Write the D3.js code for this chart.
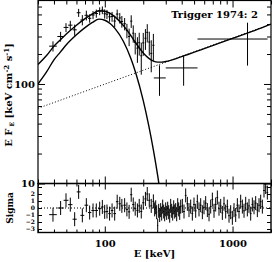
<!DOCTYPE html>
<html>
<head>
<meta charset="utf-8">
<script src="https://cdn.jsdelivr.net/npm/d3@7"></script>
<style>
body { margin: 0; background: #fff; }
text { font-family: "DejaVu Serif", serif; font-weight: bold; fill: #000; }
</style>
</head>
<body>
<div id="chart"></div>
<script>
// modelo total (keV, keV cm^-2 s^-1)
const totalE = [30, 35, 40, 45, 50, 60, 70, 80, 90, 100, 110, 120, 140, 160, 175, 200, 220, 240, 260, 280, 300, 400, 600, 1000, 1500, 2000];
const totalF = [157, 193, 240, 279, 318, 389, 453, 506, 544, 538, 511, 472, 386, 306, 258, 205, 182, 170, 166, 166, 168, 188, 227, 287, 346, 400];

// componente con corte
const bandE = [30, 35, 40, 45, 50, 60, 70, 80, 90, 100, 110, 120, 140, 160, 175, 200, 220, 240, 260, 270, 280];
const bandF = [100, 132, 175, 210, 248, 312, 368, 415, 448, 437, 405, 362, 267, 180, 128, 68, 39, 21.8, 11.8, 8.5, 6];

// ley de potencias (punteada)
const plE = [30, 2000];
const plF = [57, 400];

// espectro observado, canales finos
const specE = [39.3, 45.1, 49.7, 53.7, 58.1, 62.4, 66.7, 71.7, 76.1, 80.9, 85.8, 91.2, 95.7, 99.8, 104, 109, 114, 119.5, 125, 131,
  136, 143, 149, 155, 161, 167, 173, 180, 186, 193, 200, 208, 215, 223, 231, 240];
const specF = [240, 300, 370, 390, 350, 520, 440, 490, 457, 494, 511, 540, 552, 508, 502, 473, 476, 429, 504, 461,
  425, 403, 345, 300, 428, 324, 262, 229, 260, 192, 259, 288, 330, 264, 203, 245];
const specErr = [28, 34, 38, 41, 45, 48, 52, 55, 44, 46, 48, 49, 49, 54, 53, 51, 54, 57, 55, 56,
  57, 57, 57, 60, 62, 64, 64, 66, 67, 68, 67, 68, 69, 71, 72, 74];

// canales anchos a alta energía
const wideLo = [242, 300, 532];
const wideHi = [300, 532, 1880];
const wideE = [268, 414, 1310];
const wideF = [115, 145, 283];
const wideErr = [39, 49, 130];

// residuos (sigma)
const resE = specE.concat([
  245.7, 250.2, 254.7, 259.4, 264.1, 268.9, 273.8, 278.8, 283.9, 289.1, 294.3, 299.7, 305.1, 310.7, 316.3, 322.1,
  327.9, 333.9, 340.0, 346.2, 352.5, 358.9, 365.4, 372.1, 378.9, 385.8, 392.8,
  404.6, 416.9, 429.7, 442.8, 456.3, 470.2, 484.5, 499.3, 514.5, 530.2, 546.4, 563.1, 580.3, 598.0, 616.2, 635.0,
  654.4, 674.4, 694.9, 716.1, 737.9, 760.4, 783.6, 807.5, 832.1, 857.5, 883.6, 910.6, 938.4, 967.0, 996.5, 1026.9,
  1058.2, 1090.5, 1123.7, 1158.0, 1193.3, 1229.7, 1267.2, 1305.8, 1345.6, 1386.7, 1429.0, 1472.6, 1517.5, 1563.8,
  1611.5, 1660.6, 1711.2, 1763.4, 1817.2, 1872.6]);
const resSig = [
  -0.95, 0, 1.1, 0.48, -1.6, 2.3, -1.05, 0.4, -0.65, -0.35, -0.35, -0.1, 0.15, -0.55, -0.5, -0.8, -0.35, -0.8, 0.9, 0.6,
  0.3, 0.4, -0.2, -0.55, 1.9, 0.5, -0.1, -0.35, 0.3, -0.5, 0.75, 1.3, 2.0, 1.1, 0.3, 0.95,
  -0.2, 0.1, -0.6, -2.5, -0.4, -1.0, -0.3, -0.8, 0.2, -0.5, -0.9, -0.2, -0.7, -0.1, -0.6, -1.1, 0.3, -0.4, -0.8, 0.1,
  -0.5, -0.3, -0.9, 0.4, -0.2, -0.7, 0.2,
  0.3, -0.5, 1.8, 0.6, -0.3, 0.2, -0.8, 0.5, -0.4, 0.9, -0.2, 0.4, -0.6, 0.1, 0.7, -0.3, -0.9, 0.2, 1.2, -0.4,
  0.5, 1.5, -0.1, 0.3, -0.7, 0.6, -0.5, 0.2, -1.1, -0.6, -1.4, -0.3, -1.0, 0.4, -0.5, 0.9, 0.2, -0.4, 0.6, -0.2,
  0.3, -0.8, 0.5, 0.1, 0.7, -0.3, 0.4, 0.9, 0.2, 2.5, 3.0, 2.2];

const sigTicks = [-3, -2, -1, 0, 1, 2, 3];
const sigLabels = [-3, -2, -1, 0, 1, 2];

// dimensiones
const width = 272, height = 262;
const mLeft = 38, mRight = 271, mTop = 0.5, mainBottom = 183.5, resBottom = 232.5;

const svg = d3.select("#chart").append("svg")
  .attr("width", width)
  .attr("height", height);

const x = d3.scaleLog().domain([30, 2000]).range([mLeft, mRight]);
const y = d3.scaleLog().domain([10, 690]).range([mainBottom, mTop]);
const yr = d3.scaleLinear().domain([-3.5, 3.5]).range([resBottom, mainBottom]);

svg.append("clipPath").attr("id", "clipMain").append("rect")
  .attr("x", mLeft).attr("y", mTop).attr("width", mRight - mLeft).attr("height", mainBottom - mTop);
svg.append("clipPath").attr("id", "clipRes").append("rect")
  .attr("x", mLeft).attr("y", mainBottom).attr("width", mRight - mLeft).attr("height", resBottom - mainBottom);

const main = svg.append("g").attr("clip-path", "url(#clipMain)");
const res = svg.append("g").attr("clip-path", "url(#clipRes)");

// curvas del modelo
const line = d3.line().x(d => x(d[0])).y(d => y(d[1])).curve(d3.curveMonotoneX);

main.append("path").datum(d3.zip(plE, plF))
  .attr("d", line).attr("fill", "none").attr("stroke", "#000")
  .attr("stroke-width", 1).attr("stroke-dasharray", "1,2");
main.append("path").datum(d3.zip(bandE, bandF))
  .attr("d", line).attr("fill", "none").attr("stroke", "#000").attr("stroke-width", 1.4);
main.append("path").datum(d3.zip(totalE, totalF))
  .attr("d", line).attr("fill", "none").attr("stroke", "#000").attr("stroke-width", 1.4);

// medio ancho de cada canal, a partir de los vecinos
function halfWidths(es) {
  const px = es.map(x);
  return px.map((p, i) => {
    if (i === 0) return (px[1] - px[0]) / 2;
    if (i === px.length - 1) return (px[i] - px[i - 1]) / 2;
    return (px[i + 1] - px[i - 1]) / 4;
  });
}

const hwSpec = halfWidths(specE);
const spec = main.append("g").attr("stroke", "#000").attr("stroke-width", 1);
specE.forEach((e, i) => {
  const cx = x(e);
  spec.append("line").attr("x1", cx - hwSpec[i]).attr("x2", cx + hwSpec[i])
    .attr("y1", y(specF[i])).attr("y2", y(specF[i]));
  spec.append("line").attr("x1", cx).attr("x2", cx)
    .attr("y1", y(specF[i] - specErr[i])).attr("y2", y(specF[i] + specErr[i]));
});

wideE.forEach((e, i) => {
  spec.append("line").attr("x1", x(wideLo[i])).attr("x2", x(wideHi[i]))
    .attr("y1", y(wideF[i])).attr("y2", y(wideF[i]));
  spec.append("line").attr("x1", x(e)).attr("x2", x(e))
    .attr("y1", y(wideF[i] - wideErr[i])).attr("y2", y(wideF[i] + wideErr[i]));
});

// panel de residuos
res.append("line").attr("x1", mLeft).attr("x2", mRight)
  .attr("y1", yr(0)).attr("y2", yr(0))
  .attr("stroke", "#000").attr("stroke-width", 1).attr("stroke-dasharray", "1,2");

const hwRes = halfWidths(resE);
const rg = res.append("g").attr("stroke", "#000").attr("stroke-width", 1);
resE.forEach((e, i) => {
  const cx = x(e);
  rg.append("line").attr("x1", cx - hwRes[i]).attr("x2", cx + hwRes[i])
    .attr("y1", yr(resSig[i])).attr("y2", yr(resSig[i]));
  rg.append("line").attr("x1", cx).attr("x2", cx)
    .attr("y1", yr(resSig[i] - 1)).attr("y2", yr(resSig[i] + 1));
});

// ejes
const isMajor = v => Math.abs(Math.log10(v) - Math.round(Math.log10(v))) < 1e-6;
const xTicks = x.ticks();
const xMajor = xTicks.filter(isMajor), xMinor = xTicks.filter(v => !isMajor(v));
const yTicks = y.ticks();
const yMajor = yTicks.filter(isMajor), yMinor = yTicks.filter(v => !isMajor(v));

function put(axis, tx, ty) {
  const g = svg.append("g").attr("transform", `translate(${tx},${ty})`).call(axis);
  g.select(".domain").remove();
  g.selectAll("line").attr("stroke", "#000").attr("stroke-width", 1);
  g.selectAll("text").style("font-family", '"DejaVu Serif", serif').style("font-weight", "bold").style("font-size", "10px");
  return g;
}

// x: panel principal abajo/arriba, residuos arriba/abajo
put(d3.axisBottom(x).tickValues(xMajor).tickSize(-7).tickFormat(""), 0, mainBottom);
put(d3.axisBottom(x).tickValues(xMinor).tickSize(-4).tickFormat(""), 0, mainBottom);
put(d3.axisTop(x).tickValues(xMajor).tickSize(-7).tickFormat(""), 0, mTop);
put(d3.axisTop(x).tickValues(xMinor).tickSize(-4).tickFormat(""), 0, mTop);
put(d3.axisTop(x).tickValues(xMajor).tickSize(-6).tickFormat(""), 0, mainBottom);
put(d3.axisTop(x).tickValues(xMinor).tickSize(-3).tickFormat(""), 0, mainBottom);
put(d3.axisBottom(x).tickValues(xMajor).tickSize(-6).tickPadding(7).tickFormat(d3.format("d")), 0, resBottom);
put(d3.axisBottom(x).tickValues(xMinor).tickSize(-3).tickFormat(""), 0, resBottom);

// y principal
put(d3.axisLeft(y).tickValues(yMajor).tickSize(-7).tickPadding(3).tickFormat(d3.format("d")), mLeft, 0);
put(d3.axisLeft(y).tickValues(yMinor).tickSize(-4).tickFormat(""), mLeft, 0);
put(d3.axisRight(y).tickValues(yMajor).tickSize(-7).tickFormat(""), mRight, 0);
put(d3.axisRight(y).tickValues(yMinor).tickSize(-4).tickFormat(""), mRight, 0);

// y residuos
put(d3.axisLeft(yr).tickValues(sigTicks).tickSize(-4).tickFormat(""), mLeft, 0);
const sl = put(d3.axisLeft(yr).tickValues(sigLabels).tickSize(0).tickPadding(3).tickFormat(d3.format("d")), mLeft, 0);
sl.selectAll("text").style("font-size", "6px");
put(d3.axisRight(yr).tickValues(sigTicks).tickSize(-4).tickFormat(""), mRight, 0);

// marcos
svg.append("rect").attr("x", mLeft).attr("y", mTop).attr("width", mRight - mLeft).attr("height", mainBottom - mTop)
  .attr("fill", "none").attr("stroke", "#000").attr("stroke-width", 1.2);
svg.append("rect").attr("x", mLeft).attr("y", mainBottom).attr("width", mRight - mLeft).attr("height", resBottom - mainBottom)
  .attr("fill", "none").attr("stroke", "#000").attr("stroke-width", 1.4);

// textos
svg.append("text").attr("x", 258).attr("y", 18).attr("text-anchor", "end")
  .style("font-size", "10px").text("Trigger 1974: 2");

svg.append("text").attr("x", (mLeft + mRight) / 2).attr("y", 257).attr("text-anchor", "middle")
  .style("font-size", "10px").text("E [keV]");

const yl = svg.append("text").attr("transform", "translate(12,95) rotate(-90)")
  .attr("text-anchor", "middle").style("font-size", "10px");
yl.append("tspan").text("E F");
yl.append("tspan").attr("dy", 2).style("font-size", "6px").text(" E");
yl.append("tspan").attr("dy", -2).text(" [keV cm");
yl.append("tspan").attr("dy", -3).style("font-size", "7px").text("-2");
yl.append("tspan").attr("dy", 3).text(" s");
yl.append("tspan").attr("dy", -3).style("font-size", "7px").text("-1");
yl.append("tspan").attr("dy", 3).text("]");

svg.append("text").attr("transform", "translate(13,208) rotate(-90)")
  .attr("text-anchor", "middle").style("font-size", "9px").text("Sigma");
</script>
</body>
</html>
